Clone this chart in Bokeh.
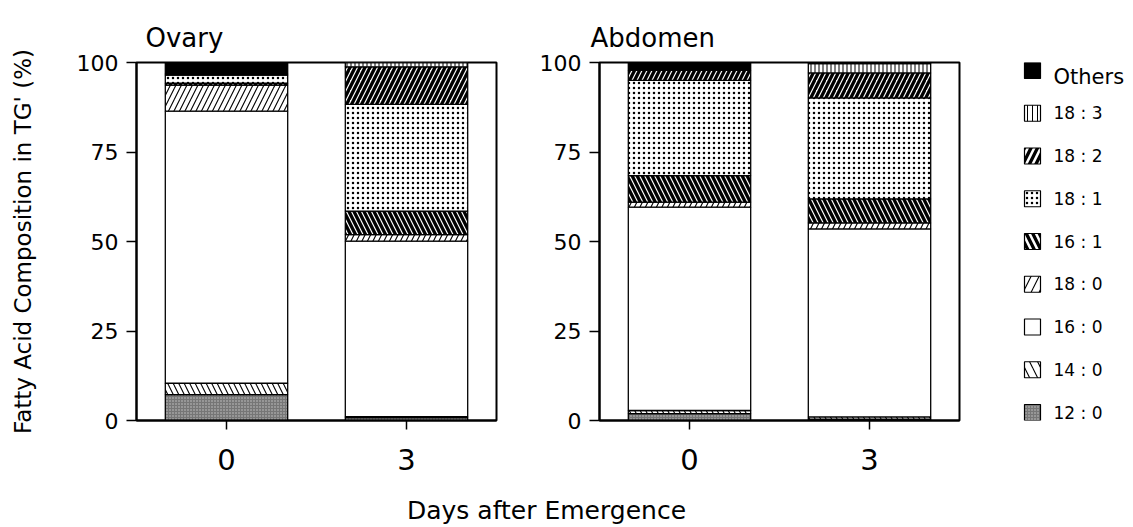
from bokeh.plotting import figure
from bokeh.layouts import row, column
from bokeh.models import FactorRange, Range1d, ColumnDataSource, Label
from bokeh.core.properties import value
from bokeh.embed import file_html
from bokeh.resources import INLINE

# ---- data (percent of TG fatty acids), stacked bottom -> top ----
days = ["0", "3"]
fatty_acids = ["12 : 0", "14 : 0", "16 : 0", "18 : 0", "16 : 1", "18 : 1", "18 : 2", "18 : 3", "Others"]
ovary_day0 = [7.2, 3.2, 76.0, 7.3, 0.5, 2.3, 0.3, 0.0, 3.2]
ovary_day3 = [0.8, 0.3, 49.0, 1.8, 6.6, 29.8, 10.5, 1.2, 0.0]
abdomen_day0 = [1.9, 0.9, 56.8, 1.4, 7.4, 26.6, 2.8, 0.0, 2.2]
abdomen_day3 = [0.4, 0.6, 52.5, 1.7, 6.7, 28.2, 7.0, 2.6, 0.3]
y_ticks = [0, 25, 50, 75, 100]

# ---- styles per fatty acid ----
fills = ["#767676", "white", "white", "white", "white", "white", "white", "white", "black"]
hatches = [".", "\\", None, "/", "\\", ".", "/", "|", None]
hatch_colors = ["#c8c8c8", "black", "black", "black", "black", "black", "black", "black", "black"]
hatch_weights = [1.0, 1.1, 1.0, 1.1, 3.3, 1.0, 3.3, 1.0, 1.0]
hatch_scales = [3.0, 11.0, 10.0, 11.0, 10.0, 5.0, 10.0, 4.0, 10.0]
legend_scales = [3.0, 16.0, 10.0, 16.0, 13.0, 5.0, 13.0, 5.0, 10.0]

FONT = "DejaVu Sans"
keys = ["s%d" % i for i in range(len(fatty_acids))]
TOP, FRAME_H, BOTTOM = 62, 358, 64
ROW_H = TOP + FRAME_H + BOTTOM


def panel(title, day0, day3, left, right, title_offset, ylabel=None):
    data = {"day": days}
    for i, k in enumerate(keys):
        data[k] = [day0[i], day3[i]]
    src = ColumnDataSource(data)
    p = figure(width=left + 360 + right, height=ROW_H,
               x_range=FactorRange(*days), y_range=Range1d(0, 100),
               output_backend="svg", toolbar_location=None,
               min_border_left=left, min_border_right=right,
               min_border_top=TOP, min_border_bottom=BOTTOM,
               title=title)
    p.vbar_stack(keys, x="day", width=0.68, source=src,
                 fill_color=fills, line_color="black", line_width=1.3,
                 hatch_pattern=hatches, hatch_color=hatch_colors,
                 hatch_weight=hatch_weights, hatch_scale=hatch_scales)
    p.xgrid.visible = False
    p.ygrid.visible = False
    p.outline_line_color = "black"
    p.outline_line_width = 2
    p.background_fill_color = "white"
    p.border_fill_color = "white"
    p.title.text_font = FONT
    p.title.text_font_size = "26px"
    p.title.text_font_style = "normal"
    p.title.text_color = "black"
    p.title.align = "left"
    p.title.offset = title_offset
    p.title.standoff = 19
    p.yaxis.ticker = y_ticks
    for ax in (p.xaxis[0], p.yaxis[0]):
        ax.axis_line_color = "black"
        ax.axis_line_width = 2
        ax.major_tick_line_color = "black"
        ax.major_tick_line_width = 1.5
        ax.major_tick_in = 0
        ax.minor_tick_line_color = None
        ax.major_label_text_font = FONT
        ax.major_label_text_color = "black"
    p.yaxis.major_tick_out = 10
    p.yaxis.major_label_standoff = 8
    p.yaxis.major_label_text_font_size = "22px"
    p.xaxis.major_tick_out = 9
    p.xaxis.major_label_standoff = 19
    p.xaxis.major_label_text_font_size = "29px"
    if ylabel:
        p.yaxis.axis_label = ylabel
        p.yaxis.axis_label_text_font = FONT
        p.yaxis.axis_label_text_font_size = "23px"
        p.yaxis.axis_label_text_font_style = "normal"
        p.yaxis.axis_label_text_color = "black"
        p.yaxis.axis_label_standoff = 38
    return p


p1 = panel("Ovary", ovary_day0, ovary_day3, 136, 40, 9,
           ylabel="Fatty Acid Composition in TG' (%)")
p2 = panel("Abdomen", abdomen_day0, abdomen_day3, 63, 5, -9)


def blank(width, height, x_range, y_range, top=0, bottom=0):
    f = figure(width=width, height=height, x_range=x_range, y_range=y_range,
               output_backend="svg", toolbar_location=None,
               x_axis_type=None, y_axis_type=None,
               min_border_left=0, min_border_right=0,
               min_border_top=top, min_border_bottom=bottom,
               outline_line_color=None)
    f.xgrid.visible = False
    f.ygrid.visible = False
    f.border_fill_color = "white"
    f.background_fill_color = "white"
    return f


# ---- legend (coordinates are the page pixels of this strip) ----
X0 = p1.width + p2.width
LEG_W = 1131 - X0
leg = blank(LEG_W, ROW_H, Range1d(X0, X0 + LEG_W), Range1d(TOP + FRAME_H, TOP), TOP, BOTTOM)
n = len(fatty_acids)
order = list(range(n - 1, -1, -1))          # Others on top
pitch = (FRAME_H - 16) / (n - 1)
ys = [TOP + 8 + pitch * j for j in range(n)]
leg_src = ColumnDataSource(dict(
    x=[1032] * n, y=ys,
    fill=[fills[i] for i in order],
    hatch=[hatches[i] for i in order],
    hcol=[hatch_colors[i] for i in order],
    hw=[hatch_weights[i] for i in order],
    hs=[legend_scales[i] for i in order],
))
leg.rect(x="x", y="y", width=16, height=16, width_units="screen", height_units="screen",
         source=leg_src, fill_color="fill", line_color="black", line_width=1.2,
         hatch_pattern="hatch", hatch_color="hcol", hatch_weight="hw", hatch_scale="hs")
lab_src = ColumnDataSource(dict(
    x=[1053] * n,
    y=[ys[0] + 6] + ys[1:],
    text=[fatty_acids[i] for i in order],
    size=["21px"] + ["17px"] * (n - 1),
))
leg.text(x="x", y="y", text="text", source=lab_src, text_align="left", text_baseline="middle",
         text_font=value(FONT), text_font_size="size", text_color="black")

# ---- shared x label ----
total_w = X0 + LEG_W
xlab = blank(total_w, 40, Range1d(0, total_w), Range1d(40, 0))
xlab.add_layout(Label(x=546, y=26, text="Days after Emergence", text_align="center",
                      text_baseline="middle", text_font=FONT, text_font_size="25px",
                      text_color="black"))

layout = column(row(p1, p2, leg, spacing=0), xlab, spacing=0)
open("out.html", "w").write(file_html(layout, INLINE))
